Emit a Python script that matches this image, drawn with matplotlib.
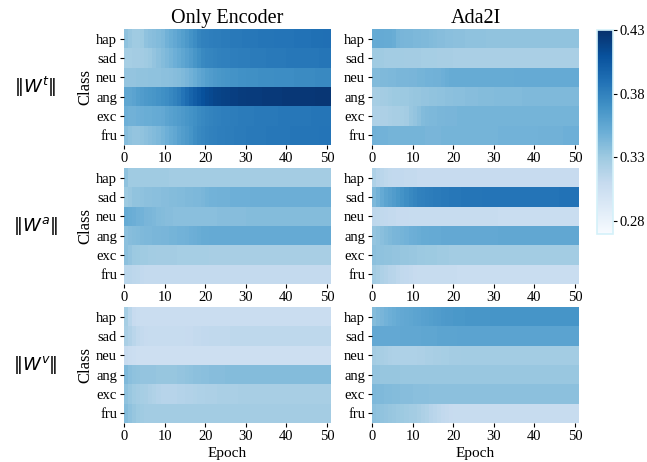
import numpy as np
import matplotlib.pyplot as plt

plt.rcParams['font.family'] = 'Liberation Serif'
plt.rcParams['mathtext.fontset'] = 'dejavusans'

classes = ["hap", "sad", "neu", "ang", "exc", "fru"]
epochs = np.arange(51)
col_titles = ["Only Encoder", "Ada2I"]
row_labels = [r"$\Vert W^t \Vert$", r"$\Vert W^a \Vert$", r"$\Vert W^v \Vert$"]
cbar_ticks = [0.28, 0.33, 0.38, 0.43]

# text modality, only encoder
enc_t = [
    [.336, .332, .329, .329, .330, .336, .338, .339, .341, .343, .348, .351, .354, .358, .361, .365, .369, .373, .378, .380, .381,
     .382, .383, .383, .384, .384, .385, .385, .385, .386, .386, .386, .386, .387, .387, .387, .387, .388, .388, .388, .388,
     .388, .389, .389, .389, .389, .390, .390, .390, .391, .391],
    [.326, .326, .327, .327, .328, .329, .331, .334, .337, .340, .343, .346, .349, .352, .356, .359, .363, .367, .371, .375, .377,
     .378, .379, .380, .381, .381, .382, .382, .383, .383, .383, .384, .384, .384, .384, .385, .385, .385, .385, .385, .386,
     .386, .386, .386, .386, .386, .386, .386, .387, .387, .387],
    [.334, .334, .334, .335, .335, .335, .336, .336, .336, .337, .337, .338, .339, .340, .342, .345, .348, .351, .355, .358, .361,
     .363, .365, .366, .367, .368, .369, .369, .370, .370, .371, .371, .371, .372, .372, .372, .372, .373, .373, .373, .373,
     .373, .374, .374, .374, .374, .374, .375, .375, .375, .375],
    [.356, .356, .358, .361, .363, .365, .366, .367, .369, .371, .373, .376, .379, .383, .388, .393, .398, .402, .406, .410, .413,
     .415, .417, .418, .419, .420, .421, .421, .422, .422, .423, .423, .423, .423, .424, .424, .424, .424, .424, .425, .425,
     .425, .425, .425, .425, .425, .425, .426, .426, .426, .426],
    [.349, .348, .348, .349, .350, .351, .351, .352, .353, .354, .357, .359, .361, .363, .365, .367, .369, .371, .374, .376, .378,
     .379, .380, .381, .382, .382, .383, .383, .384, .384, .384, .384, .385, .385, .385, .385, .385, .385, .386, .386, .386,
     .386, .386, .386, .386, .386, .387, .387, .387, .387, .387],
    [.339, .336, .334, .334, .335, .337, .339, .341, .343, .346, .349, .352, .355, .359, .362, .365, .368, .372, .375, .377, .379,
     .380, .381, .382, .382, .383, .383, .384, .384, .384, .385, .385, .385, .385, .385, .386, .386, .386, .386, .386, .386,
     .387, .387, .387, .387, .387, .387, .387, .388, .388, .388],
]

# text modality, Ada2I
ada_t = [
    [.352, .353, .353, .352, .352, .351, .346, .345, .344, .344, .343, .343, .342, .342, .341, .340, .339, .339, .338, .338, .337,
     .337, .337, .336, .336, .336, .336, .336, .335, .335, .335, .335, .335, .335, .335, .335, .335, .335, .335, .335, .335,
     .335, .335, .335, .335, .335, .335, .335, .335, .335, .335],
    [.329, .329, .329, .328, .328, .328, .328, .328, .327, .327, .327, .327, .326, .326, .326, .326, .325, .325, .325, .325, .324,
     .324, .324, .324, .324, .324, .324, .324, .324, .324, .324, .324, .324, .324, .324, .324, .324, .324, .324, .324, .324,
     .324, .324, .324, .324, .324, .324, .324, .324, .324, .324],
    [.341, .341, .342, .342, .343, .343, .344, .344, .344, .345, .345, .346, .346, .347, .347, .348, .348, .349, .351, .352, .352,
     .352, .352, .352, .352, .352, .352, .352, .352, .352, .352, .352, .352, .352, .352, .353, .353, .353, .353, .353, .353,
     .353, .353, .353, .353, .353, .353, .353, .353, .353, .353],
    [.325, .326, .327, .328, .329, .330, .330, .331, .331, .332, .333, .333, .334, .334, .335, .335, .336, .336, .337, .337, .338,
     .338, .338, .339, .339, .339, .340, .340, .340, .340, .341, .341, .341, .341, .341, .341, .341, .342, .342, .342, .342,
     .342, .342, .342, .342, .342, .342, .342, .342, .342, .342],
    [.322, .322, .323, .323, .324, .325, .325, .326, .327, .332, .334, .337, .341, .342, .343, .343, .344, .344, .345, .345, .345,
     .346, .346, .346, .346, .346, .346, .346, .346, .346, .346, .346, .346, .346, .346, .346, .346, .346, .346, .346, .346,
     .346, .346, .346, .346, .346, .346, .346, .346, .346, .346],
    [.348, .347, .347, .347, .346, .346, .346, .346, .346, .346, .346, .346, .346, .345, .345, .345, .345, .346, .346, .346, .346,
     .346, .346, .346, .346, .346, .346, .346, .346, .346, .346, .347, .347, .347, .347, .347, .347, .347, .347, .347, .347,
     .348, .348, .348, .348, .348, .348, .349, .349, .349, .349],
]

# audio modality, only encoder
enc_a = [
    [.336, .329, .329, .329, .329, .329, .329, .329, .329, .329, .329, .328, .328, .328, .328, .328, .328, .328, .328, .328, .328,
     .328, .328, .328, .328, .328, .328, .328, .328, .328, .328, .327, .327, .327, .327, .327, .327, .327, .327, .327, .327,
     .327, .327, .327, .327, .327, .327, .327, .327, .327, .327],
    [.330, .332, .335, .335, .336, .337, .337, .338, .338, .339, .339, .340, .340, .341, .341, .342, .342, .343, .343, .344, .346,
     .347, .347, .348, .348, .348, .349, .349, .349, .349, .349, .350, .350, .350, .350, .350, .350, .350, .350, .350, .350,
     .350, .350, .350, .350, .350, .350, .350, .350, .350, .350],
    [.352, .351, .350, .348, .347, .345, .344, .343, .341, .340, .339, .339, .338, .338, .338, .338, .338, .338, .338, .338, .338,
     .338, .338, .339, .339, .339, .339, .339, .339, .339, .340, .340, .340, .340, .340, .340, .340, .340, .340, .340, .340,
     .340, .340, .340, .340, .340, .340, .340, .340, .340, .340],
    [.337, .339, .340, .341, .342, .343, .343, .344, .344, .345, .345, .346, .346, .347, .347, .348, .349, .350, .351, .352, .352,
     .353, .353, .353, .353, .353, .353, .353, .353, .353, .353, .353, .353, .353, .353, .353, .353, .353, .353, .353, .353,
     .353, .353, .353, .353, .353, .353, .353, .353, .353, .353],
    [.337, .334, .331, .330, .329, .329, .328, .328, .327, .327, .327, .327, .327, .326, .326, .326, .326, .326, .326, .326, .326,
     .325, .325, .325, .325, .325, .325, .325, .325, .325, .325, .325, .325, .325, .325, .325, .325, .325, .325, .325, .325,
     .325, .325, .325, .325, .325, .325, .325, .325, .325, .325],
    [.316, .316, .315, .314, .312, .311, .311, .311, .311, .311, .311, .311, .311, .311, .311, .311, .311, .311, .311, .311, .311,
     .311, .311, .311, .311, .311, .311, .311, .311, .311, .311, .311, .311, .311, .311, .311, .311, .311, .311, .311, .311,
     .311, .311, .311, .311, .311, .311, .311, .311, .311, .311],
]

# audio modality, Ada2I
ada_a = [
    [.322, .318, .316, .314, .313, .312, .312, .312, .311, .311, .311, .310, .310, .310, .310, .310, .310, .310, .310, .310, .310,
     .310, .310, .310, .310, .310, .310, .310, .310, .310, .310, .310, .310, .310, .310, .310, .310, .310, .310, .310, .310,
     .310, .310, .310, .310, .310, .310, .310, .310, .310, .310],
    [.343, .348, .353, .357, .360, .363, .366, .369, .372, .375, .378, .380, .381, .382, .383, .384, .384, .385, .385, .386, .386,
     .386, .387, .387, .387, .387, .387, .388, .388, .388, .388, .388, .388, .388, .388, .388, .388, .388, .388, .388, .388,
     .388, .388, .388, .388, .388, .389, .389, .389, .389, .389],
    [.315, .314, .313, .312, .311, .311, .310, .310, .310, .309, .309, .309, .309, .309, .309, .309, .309, .309, .309, .309, .309,
     .309, .309, .309, .309, .309, .309, .309, .309, .309, .309, .308, .308, .308, .308, .308, .308, .308, .308, .308, .308,
     .308, .308, .308, .308, .308, .308, .308, .308, .308, .308],
    [.334, .336, .338, .340, .342, .344, .345, .346, .347, .349, .350, .351, .352, .352, .353, .353, .353, .354, .354, .354, .354,
     .354, .354, .354, .354, .354, .354, .354, .354, .354, .354, .355, .355, .355, .355, .355, .355, .355, .355, .355, .355,
     .355, .355, .355, .355, .355, .355, .355, .355, .355, .355],
    [.337, .336, .336, .335, .335, .334, .334, .333, .333, .332, .332, .331, .331, .330, .330, .330, .329, .329, .329, .328, .328,
     .328, .328, .328, .328, .328, .328, .328, .328, .328, .328, .328, .328, .328, .328, .328, .328, .328, .328, .328, .328,
     .328, .328, .328, .328, .328, .328, .328, .328, .328, .328],
    [.328, .325, .322, .320, .318, .317, .315, .313, .312, .311, .310, .309, .309, .309, .309, .309, .309, .309, .309, .309, .309,
     .308, .308, .308, .308, .308, .308, .308, .308, .308, .308, .308, .308, .308, .308, .308, .308, .308, .308, .308, .308,
     .308, .308, .308, .308, .308, .308, .308, .308, .308, .308],
]

# visual modality, only encoder
enc_v = [
    [.326, .316, .310, .308, .307, .307, .307, .307, .307, .307, .307, .307, .307, .307, .307, .307, .307, .307, .307, .307, .307,
     .307, .307, .307, .307, .307, .307, .307, .307, .307, .307, .307, .307, .307, .307, .307, .307, .307, .307, .307, .307,
     .307, .307, .307, .307, .307, .307, .307, .307, .307, .307],
    [.324, .320, .316, .313, .311, .310, .309, .309, .309, .309, .309, .309, .309, .309, .309, .310, .310, .311, .311, .312, .312,
     .313, .313, .313, .313, .313, .314, .314, .314, .314, .314, .314, .314, .314, .314, .314, .314, .314, .314, .314, .314,
     .314, .314, .314, .314, .314, .314, .314, .314, .314, .314],
    [.310, .307, .306, .305, .305, .305, .305, .305, .305, .305, .305, .305, .305, .305, .305, .305, .305, .305, .305, .305, .305,
     .305, .305, .305, .305, .305, .305, .305, .305, .305, .305, .305, .305, .305, .305, .305, .305, .305, .305, .305, .305,
     .305, .305, .305, .305, .305, .305, .305, .305, .305, .305],
    [.342, .338, .336, .335, .334, .334, .334, .334, .333, .333, .333, .333, .333, .334, .334, .335, .336, .337, .337, .338, .338,
     .339, .339, .339, .339, .340, .340, .340, .340, .340, .340, .340, .340, .340, .340, .340, .340, .340, .340, .340, .340,
     .340, .340, .340, .340, .340, .340, .340, .340, .340, .340],
    [.336, .332, .329, .327, .326, .325, .323, .321, .319, .318, .318, .318, .318, .319, .319, .320, .320, .321, .322, .322, .323,
     .323, .323, .324, .324, .324, .324, .324, .325, .325, .325, .325, .325, .325, .325, .325, .325, .325, .325, .325, .325,
     .325, .325, .325, .325, .325, .325, .325, .325, .325, .325],
    [.340, .336, .333, .330, .329, .328, .328, .328, .328, .328, .328, .328, .328, .328, .328, .328, .328, .328, .328, .328, .328,
     .328, .328, .328, .328, .328, .328, .328, .328, .328, .328, .327, .327, .327, .327, .327, .327, .327, .327, .327, .327,
     .327, .327, .327, .327, .327, .327, .327, .327, .327, .327],
]

# visual modality, Ada2I
ada_v = [
    [.340, .343, .345, .347, .349, .351, .353, .354, .355, .356, .357, .358, .359, .360, .361, .362, .363, .364, .365, .365, .366,
     .366, .366, .367, .367, .367, .367, .367, .367, .368, .368, .368, .368, .368, .368, .368, .368, .368, .368, .368, .368,
     .368, .368, .368, .368, .368, .368, .368, .368, .368, .368],
    [.354, .354, .354, .354, .354, .354, .354, .355, .355, .355, .355, .355, .356, .356, .356, .356, .357, .357, .357, .357, .357,
     .358, .358, .358, .358, .358, .358, .358, .358, .358, .358, .358, .358, .358, .358, .358, .358, .358, .358, .358, .358,
     .358, .358, .358, .358, .358, .358, .358, .358, .358, .358],
    [.327, .326, .325, .324, .323, .322, .322, .322, .322, .322, .322, .323, .323, .324, .324, .325, .325, .326, .326, .327, .327,
     .327, .328, .328, .328, .328, .328, .328, .328, .328, .328, .328, .328, .328, .328, .328, .328, .328, .328, .328, .328,
     .328, .328, .328, .328, .328, .328, .328, .328, .328, .328],
    [.334, .334, .333, .333, .333, .333, .333, .332, .332, .332, .332, .332, .332, .332, .332, .332, .332, .332, .332, .332, .332,
     .332, .332, .332, .332, .332, .332, .332, .332, .332, .332, .332, .332, .332, .332, .332, .332, .332, .332, .332, .332,
     .332, .332, .332, .332, .332, .332, .332, .332, .332, .332],
    [.343, .342, .342, .341, .341, .340, .340, .339, .339, .339, .338, .338, .338, .338, .337, .337, .337, .337, .337, .337, .337,
     .337, .337, .337, .337, .337, .337, .337, .337, .337, .337, .337, .337, .337, .337, .337, .337, .337, .337, .337, .337,
     .337, .337, .337, .337, .337, .337, .337, .337, .337, .337],
    [.337, .336, .335, .334, .333, .332, .331, .330, .329, .328, .327, .325, .323, .321, .318, .316, .314, .312, .311, .310, .309,
     .309, .309, .309, .309, .309, .309, .309, .309, .309, .309, .309, .309, .309, .309, .309, .309, .309, .309, .309, .309,
     .309, .309, .309, .309, .309, .309, .309, .309, .309, .309],
]

panels = [[enc_t, ada_t], [enc_a, ada_a], [enc_v, ada_v]]
vmin, vmax = 0.27, 0.43

fig = plt.figure(figsize=(6.47, 4.62), dpi=100)

lefts = [124 / 647, 372 / 647]
bottoms = [1 - 145 / 462, 1 - 284 / 462, 1 - 423 / 462]
w = 207 / 647
h = 116 / 462

for r in range(3):
    for c in range(2):
        ax = fig.add_axes([lefts[c], bottoms[r], w, h])
        data = np.array(panels[r][c])
        mesh = ax.pcolormesh(np.arange(len(epochs) + 1), np.arange(len(classes) + 1), data,
                             cmap="Blues", vmin=vmin, vmax=vmax)
        ax.set_ylim(len(classes), 0)
        ax.set_xlim(0, len(epochs))
        ax.set_xticks(np.arange(0, 51, 10))
        ax.set_yticks(np.arange(len(classes)) + 0.5)
        ax.set_yticklabels(classes)
        ax.tick_params(labelsize=10.5, length=3, width=0.8, pad=2)
        for s in ax.spines.values():
            s.set_visible(False)
        if c == 0:
            ax.set_ylabel("Class", fontsize=12, labelpad=2)
        if r == 0:
            ax.set_title(col_titles[c], fontsize=14.5, pad=4)
        if r == 2:
            ax.set_xlabel("Epoch", fontsize=11, labelpad=3)
    fig.text(35 / 647, bottoms[r] + h / 2, row_labels[r], fontsize=13, ha="center", va="center")

cax = fig.add_axes([597 / 647, 1 - 234 / 462, 16 / 647, 204 / 462])
cb = fig.colorbar(mesh, cax=cax)
cb.set_ticks(cbar_ticks)
cb.ax.set_yticklabels(["%.2f" % t for t in cbar_ticks])
cb.ax.tick_params(labelsize=10.5, length=3, width=0.8, pad=2)
cb.outline.set_edgecolor("#d4f1f9")
cb.outline.set_linewidth(1.2)

fig.savefig("out.png", dpi=100)
